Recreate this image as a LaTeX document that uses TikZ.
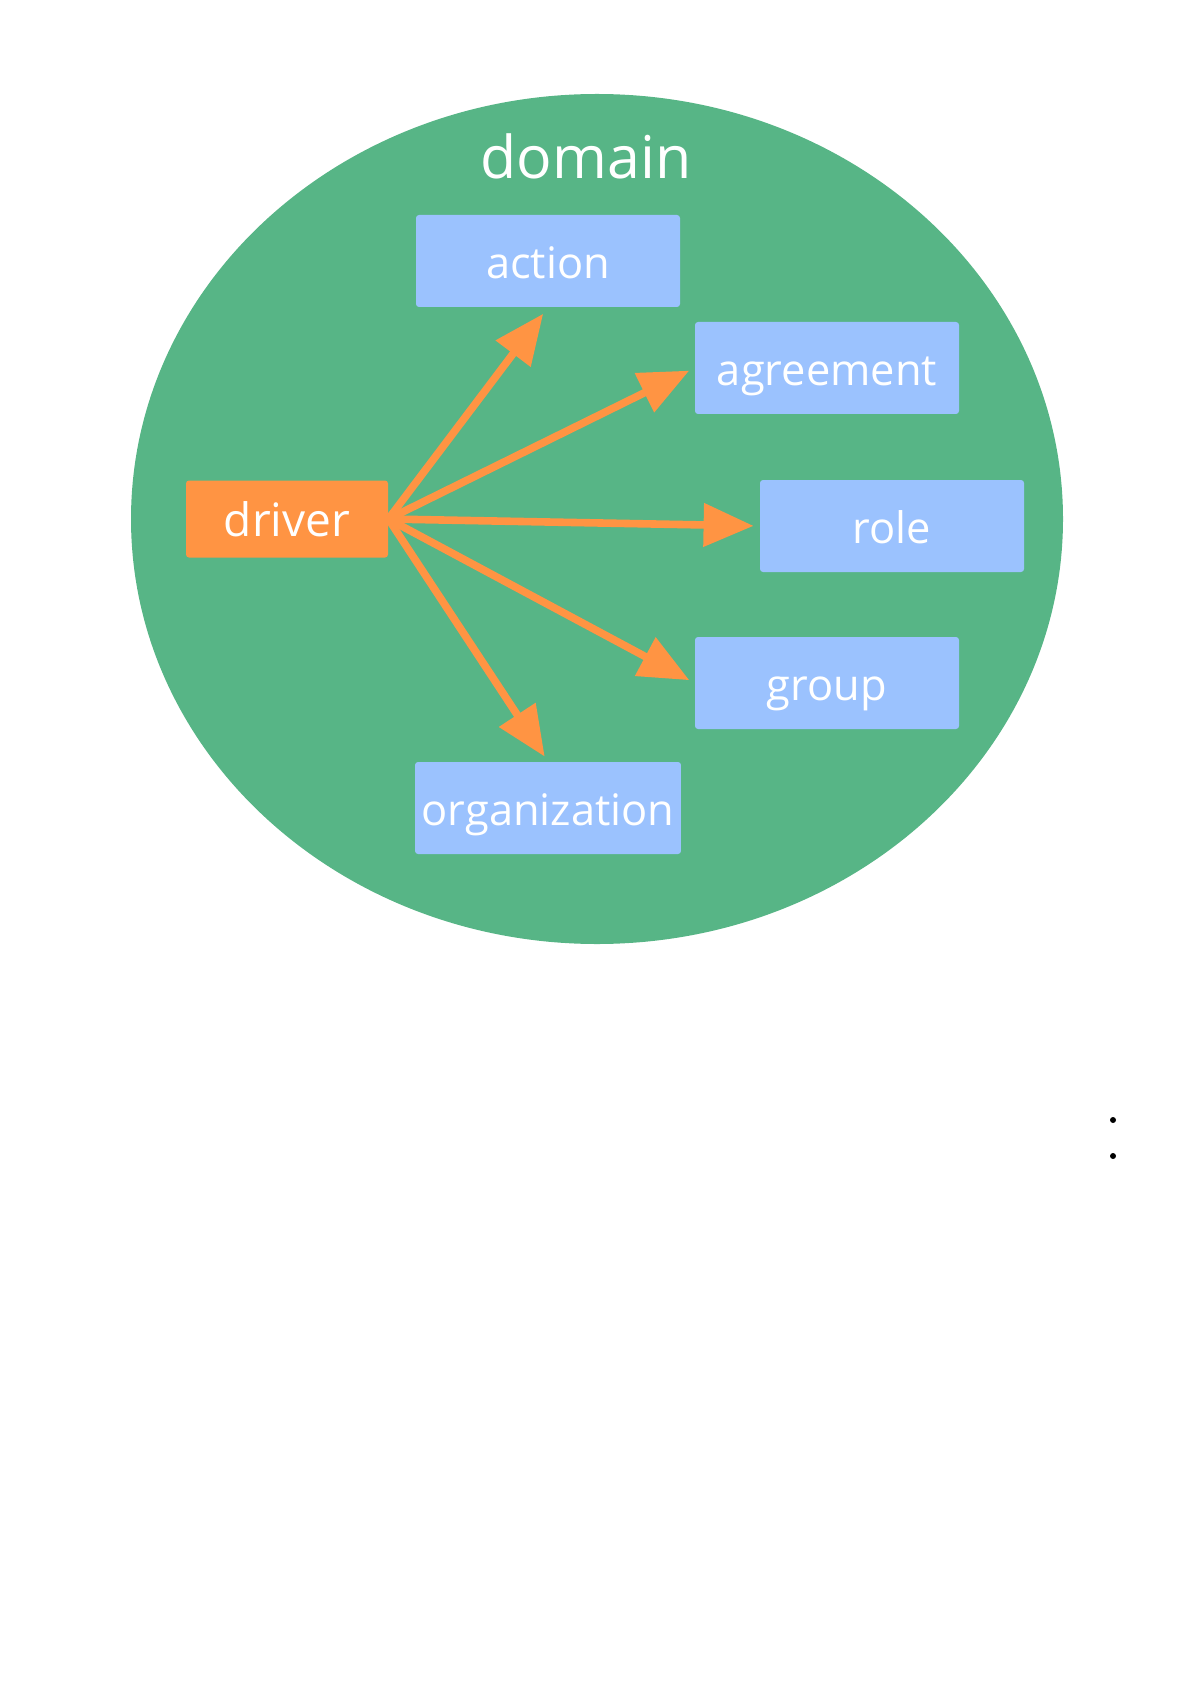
\documentclass[tikz,border=0pt]{standalone}
\usepackage{fontspec}
\setmainfont{Open Sans}
\usetikzlibrary{arrows.meta}
\definecolor{Leaf}{HTML}{57B586}
\definecolor{Sky}{HTML}{9BC2FE}
\definecolor{Tangerine}{HTML}{FF9443}

\begin{document}
\begin{tikzpicture}[x=0.5pt, y=-0.5pt,
  every node/.style={font=\fontsize{21.7}{26}\selectfont, text=white},
  box/.style={rectangle,rounded corners=1.5pt,fill=Sky,minimum width=132pt,minimum height=46pt,text height=17.5pt,text depth=0pt},
  link/.style={Tangerine,line width=3.8pt,-{Triangle[length=25pt,width=21pt]},shorten >=3pt}]
  \useasboundingbox (0,0) rectangle (1190,1684);
  \fill[Leaf] (597,519) ellipse [x radius=466, y radius=425];
  \node[font=\fontsize{29.5}{34}\selectfont] (domain) at (586,156) {domain};
  \node[rectangle,rounded corners=1.5pt,fill=Tangerine,minimum width=101pt,minimum height=38.5pt,font=\fontsize{23}{27}\selectfont] (driver) at (287,519) {driver};
  \node[box] (action) at (548,261) {action};
  \node[box] (agreement) at (827,368) {agreement};
  \node[box] (role) at (892,526) {role};
  \node[box] (group) at (827,683) {group};
  \node[box] (organization) at (548,808) {organization};
  \draw[link,shorten >=4pt] (driver.east) -- (action.south);
  \draw[link] (driver.east) -- (agreement.west);
  \draw[link] (driver.east) -- (role.west);
  \draw[link] (driver.east) -- (group.west);
  \draw[link] (driver.east) -- (organization.north);
  % the two dots at the right
  \fill (1113,1120) circle [radius=3];
  \fill (1113,1156) circle [radius=3];
\end{tikzpicture}
\end{document}
